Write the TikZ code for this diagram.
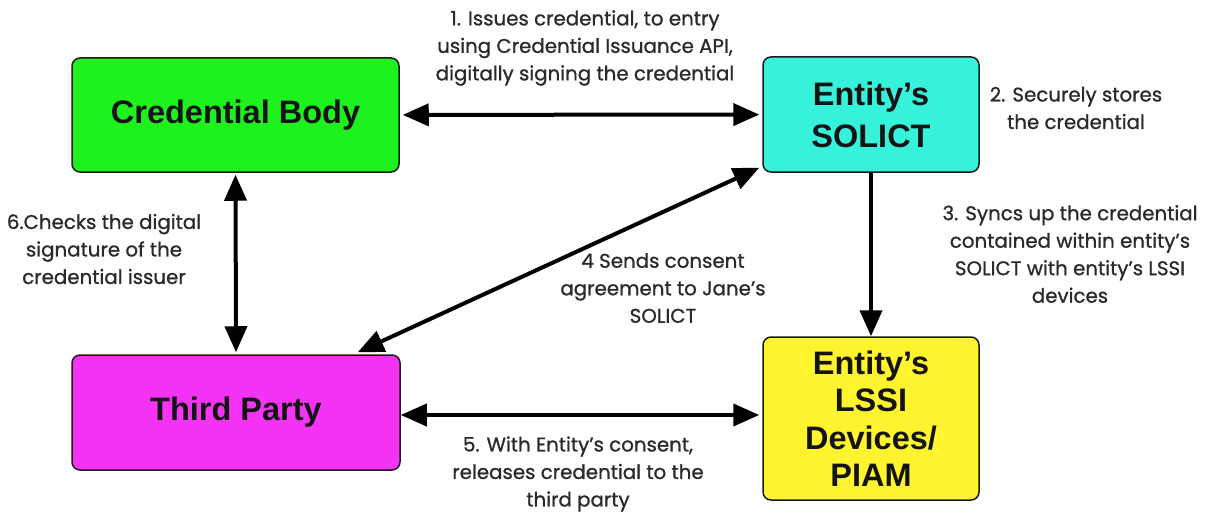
\documentclass[tikz,border=0pt]{standalone}
\usepackage{fontspec}
\setmainfont{Liberation Sans}
\newfontfamily\notefont[FakeBold=0.9]{Poppins}
\usetikzlibrary{arrows.meta}

\definecolor{bodygreen}{HTML}{1EF21E}
\definecolor{solictcyan}{HTML}{36F2DA}
\definecolor{partymagenta}{HTML}{F533F5}
\definecolor{lssiyellow}{HTML}{FFF42E}
\definecolor{notegray}{HTML}{2A2A2A}
\definecolor{edgegray}{HTML}{1A1A1A}

\tikzset{
  entity/.style={draw=edgegray, line width=1.5pt, rounded corners=8pt,
    align=center, inner sep=0pt, text=black!92,
    font=\bfseries\fontsize{32.5}{38}\selectfont},
  note/.style={align=center, inner sep=0pt, text=notegray,
    font=\notefont\fontsize{19.8}{27.5}\selectfont},
  link/.style={line width=4pt, draw=black},
  twoway/.style={link, {Triangle[length=26pt,width=22pt]}-{Triangle[length=26pt,width=22pt]}},
  oneway/.style={link, -{Triangle[length=26pt,width=22pt]}}
}

\begin{document}
\begin{tikzpicture}[x=1pt,y=-1pt]
  \useasboundingbox[fill=white] (0,0) rectangle (1213,519);

  % participants
  \node[entity, fill=bodygreen, minimum width=327pt, minimum height=114pt]
    (cb) at (235.5,115) {Credential Body};
  \node[entity, fill=solictcyan, minimum width=216pt, minimum height=115pt,
    font=\bfseries\fontsize{32.5}{42}\selectfont]
    (sol) at (871,114.5) {Entity’s\\SOLICT};
  \node[entity, fill=partymagenta, minimum width=328pt, minimum height=115pt]
    (tp) at (236,412.5) {Third Party};
  \node[entity, fill=lssiyellow, minimum width=216pt, minimum height=163pt,
    font=\bfseries\fontsize{32.5}{37.5}\selectfont]
    (lssi) at (871,418.5) {Entity’s\\LSSI\\Devices/\\PIAM};

  % flows between participants
  \draw[twoway, shorten <=3pt, shorten >=3pt] (cb) -- (sol);
  \draw[oneway] (sol.south) -- (lssi.north);
  \draw[twoway, shorten <=2pt, shorten >=2pt] (cb.south) -- (tp.north);
  \draw[twoway] ([xshift=-43pt,yshift=2pt]tp.north east)
    -- ([xshift=-3pt,yshift=5pt]sol.south west);
  \draw[twoway, shorten >=3pt] ([yshift=-2.5pt]tp.east) -- ([yshift=3.5pt]lssi.west);

  % step descriptions
  \node[note] (n1) at (585,48) {1. Issues credential, to entry\\using Credential Issuance API,\\digitally signing the credential};
  \node[note] (n2) at (1076,108) {2. Securely stores\\the credential};
  \node[note] (n3) at (1070,254) {3. Syncs up the credential\\contained within entity’s\\SOLICT with entity’s LSSI\\devices};
  \node[note] (n4) at (663,288) {4 Sends consent\\agreement to Jane’s\\SOLICT};
  \node[note] (n5) at (578,474) {5. With Entity’s consent,\\releases credential to the\\third party};
  \node[note] (n6) at (104,249) {6.Checks the digital\\signature of the\\credential issuer};
\end{tikzpicture}
\end{document}
